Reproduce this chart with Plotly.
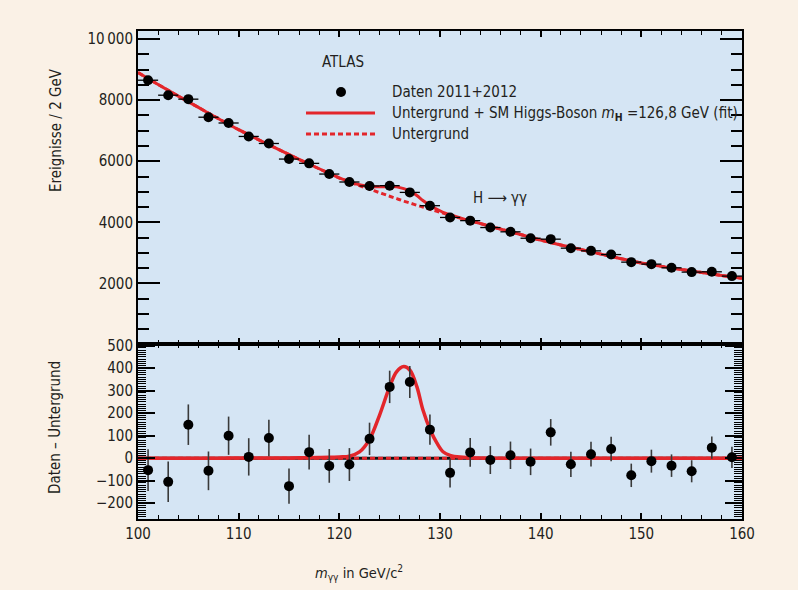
import numpy as np
import plotly.graph_objects as go

# ---------------- data ----------------
MASS = [101, 103, 105, 107, 109, 111, 113, 115, 117, 119, 121, 123, 125, 127, 129,
        131, 133, 135, 137, 139, 141, 143, 145, 147, 149, 151, 153, 155, 157, 159]
EVENTS = [8650, 8160, 8030, 7440, 7250, 6810, 6580, 6070, 5930, 5580, 5320, 5190, 5200, 4980, 4545,
          4160, 4056, 3830, 3690, 3480, 3450, 3155, 3067, 2946, 2698, 2633, 2512, 2372, 2382, 2241]
RESID = [-53, -105, 149, -56, 100, 6, 90, -124, 27, -34, -28, 86, 317, 339, 127,
         -65, 26, -8, 13, -16, 115, -27, 18, 41, -76, -13, -33, -58, 47, 4]
RESID_ERR = [93, 90, 90, 86, 85, 83, 81, 78, 77, 75, 73, 72, 72, 71, 67,
             65, 64, 62, 61, 59, 59, 56, 55, 54, 52, 51, 50, 49, 49, 47]
BIN_HALF = 1

FIT_X = [100, 102, 104, 106, 108, 110, 112, 114, 116, 118,
         119, 120, 121, 122, 123, 124, 125,
         125.7, 126.4, 127, 127.7, 128.3, 129, 129.7, 130.3, 131,
         132, 134, 136, 138, 140, 142, 144, 146, 148, 150, 152, 154, 156, 158, 160]
BKG = [8900, 8510, 8130, 7760, 7390, 7030, 6700, 6380, 6060, 5750,
       5600, 5450, 5325, 5200, 5085, 4970, 4855,
       4775, 4695, 4635, 4560, 4500, 4430, 4360, 4300, 4235,
       4140, 3960, 3780, 3600, 3420, 3260, 3110, 2960, 2810, 2670, 2560, 2460, 2360, 2260, 2170]
SIG = [0, 0, 0, 0, 0, 1, 1, 1, 2, 3,
       4, 6, 9, 28, 84, 192, 318,
       385, 407, 392, 318, 215, 129, 67, 29, 13,
       5, 1, 0, 0, 0, 0, 0, 0, 0, 0, 0, 0, 0, 0, 0]

TOP_TICKS = [2000, 4000, 6000, 8000, 10000]
TOP_TICKTEXT = ["2000", "4000", "6000", "8000", "10\u2009000"]
BOT_TICKS = [-200, -100, 0, 100, 200, 300, 400, 500]
X_TICKS = [100, 110, 120, 130, 140, 150, 160]

# ---------------- style ----------------
FONT = "Liberation Sans Narrow, DejaVu Sans Condensed, Arial Narrow, sans-serif"
TXT = "#231F20"
RED = "#E3262B"
PAPER = "#FAF1E6"
PLOTBG = "#D5E5F4"
FS = 15

W, H = 798, 590
L, R, T, B = 138, 742, 31, 519
def px(xp):
    return (xp - L) / (R - L)
def py(yp):
    return (B - yp) / (B - T)
SPLIT = py(344)

fit_top = np.array(BKG) + np.array(SIG)

fig = go.Figure()
# top panel
fig.add_trace(go.Scatter(x=FIT_X, y=BKG, mode="lines", line=dict(color=RED, width=3, dash="5px,3px", shape="spline"),
                         xaxis="x", yaxis="y", hoverinfo="skip"))
fig.add_trace(go.Scatter(x=FIT_X, y=fit_top, mode="lines", line=dict(color=RED, width=3, shape="spline"),
                         xaxis="x", yaxis="y", hoverinfo="skip"))
fig.add_trace(go.Scatter(x=MASS, y=EVENTS, mode="markers",
                         marker=dict(color="black", size=10),
                         error_x=dict(type="constant", value=BIN_HALF, color="black", thickness=1.3, width=0),
                         xaxis="x", yaxis="y"))
# bottom panel
zero = [0] * len(FIT_X)
fig.add_trace(go.Scatter(x=FIT_X, y=zero, mode="lines", line=dict(color="#111111", width=3),
                         xaxis="x2", yaxis="y2", hoverinfo="skip"))
fig.add_trace(go.Scatter(x=FIT_X, y=zero, mode="lines", line=dict(color=RED, width=3, dash="5px,3px"),
                         xaxis="x2", yaxis="y2", hoverinfo="skip"))
fig.add_trace(go.Scatter(x=FIT_X, y=SIG, mode="lines", line=dict(color=RED, width=3.5, shape="spline"),
                         xaxis="x2", yaxis="y2", hoverinfo="skip"))
fig.add_trace(go.Scatter(x=MASS, y=RESID, mode="markers",
                         marker=dict(color="black", size=10),
                         error_y=dict(type="data", array=RESID_ERR, color="#3a3a3a", thickness=1.6, width=0),
                         xaxis="x2", yaxis="y2"))

axis_common = dict(showline=True, linecolor="black", linewidth=2, mirror="ticks",
                   ticks="inside", tickcolor="black", showgrid=False, zeroline=False,
                   tickfont=dict(family=FONT, size=FS, color=TXT))

fig.update_layout(
    width=W, height=H,
    margin=dict(l=L, r=W - R, t=T, b=H - B),
    paper_bgcolor=PAPER, plot_bgcolor=PLOTBG,
    showlegend=False,
    font=dict(family=FONT, size=FS, color=TXT),
    xaxis=dict(axis_common, domain=[0, 1], anchor="y", range=[100, 160],
               tickvals=X_TICKS, showticklabels=False, ticklen=6, tickwidth=1.5,
               minor=dict(dtick=2, tick0=100, ticks="inside", ticklen=4, tickwidth=1.2, tickcolor="black")),
    yaxis=dict(axis_common, domain=[SPLIT, 1], anchor="x", range=[20, 10260],
               tickvals=TOP_TICKS, ticktext=TOP_TICKTEXT, ticklen=22, tickwidth=1.5,
               minor=dict(tickvals=list(range(500, 10500, 500)), ticks="inside", ticklen=11,
                          tickwidth=1.5, tickcolor="black")),
    xaxis2=dict(axis_common, domain=[0, 1], anchor="y2", range=[100, 160],
                tickvals=X_TICKS, ticklen=6, tickwidth=1.5,
                minor=dict(dtick=2, tick0=100, ticks="inside", ticklen=4, tickwidth=1.2, tickcolor="black")),
    yaxis2=dict(axis_common, domain=[0, SPLIT], anchor="x2", range=[-270, 507.5],
                tickvals=BOT_TICKS, ticklen=17, tickwidth=1.5,
                minor=dict(tickvals=list(range(-260, 510, 10)), ticks="inside", ticklen=8,
                           tickwidth=1.2, tickcolor="black")),
)

ann = [
    dict(text="ATLAS", x=px(343), y=py(62), xanchor="center", yanchor="middle", size=FS),
    dict(text="Daten 2011+2012", x=px(390), y=py(92), xanchor="left", yanchor="middle", size=FS),
    dict(text="Untergrund + SM Higgs-Boson <i>m</i><sub><b>H</b></sub> =126,8 GeV (fit)",
         x=px(390), y=py(113), xanchor="left", yanchor="middle", size=FS),
    dict(text="Untergrund", x=px(390), y=py(134), xanchor="left", yanchor="middle", size=FS),
    dict(text="H \u27f6 \u03b3\u03b3", x=px(500), y=py(198), xanchor="center", yanchor="middle", size=FS),
    dict(text="Ereignisse / 2 GeV", x=px(56), y=py(130), xanchor="center", yanchor="middle",
         textangle=-90, size=FS),
    dict(text="Daten \u2013 Untergrund", x=px(55), y=py(428), xanchor="center", yanchor="middle",
         textangle=-90, size=FS),
    dict(text="<i>m</i><sub>\u03b3\u03b3</sub> in GeV/c<sup>2</sup>", x=px(359), y=py(573),
         xanchor="center", yanchor="middle", size=14.5),
]
for a in ann:
    size = a.pop("size")
    fig.add_annotation(xref="paper", yref="paper", showarrow=False,
                       font=dict(family=FONT, size=size, color=TXT), **a)

# legend keys
fig.add_shape(type="circle", xref="paper", yref="paper",
              x0=px(336), x1=px(346), y0=py(97), y1=py(87), fillcolor="black", line=dict(width=0))
fig.add_shape(type="line", xref="paper", yref="paper", x0=px(306), x1=px(375), y0=py(113), y1=py(113),
              line=dict(color=RED, width=3))
fig.add_shape(type="line", xref="paper", yref="paper", x0=px(306), x1=px(375), y0=py(134), y1=py(134),
              line=dict(color=RED, width=3, dash="5px,3px"))

fig.write_html("out.html")
